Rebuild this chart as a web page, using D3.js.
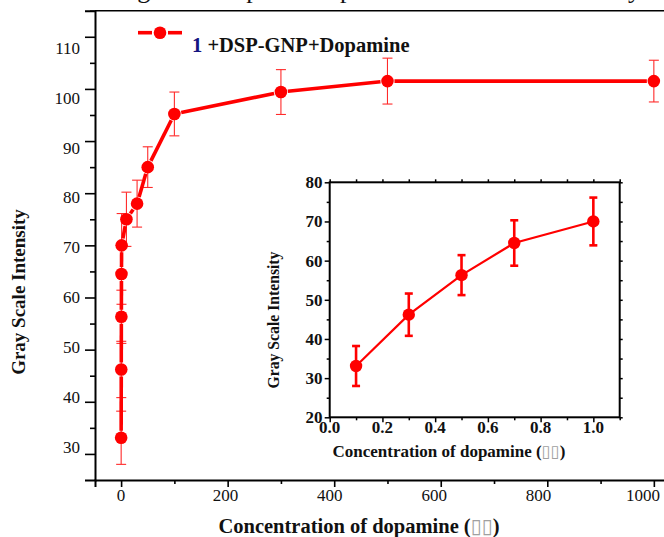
<!DOCTYPE html>
<html>
<head>
<meta charset="utf-8">
<script src="https://cdn.jsdelivr.net/npm/d3@7"></script>
<style>
  body { margin: 0; background: #fff; }
  svg { display: block; }
  text { font-family: "Liberation Serif", "Times New Roman", serif; }
</style>
</head>
<body>
<svg id="chart" width="664" height="537"></svg>
<script>
// Gray scale intensity vs. dopamine concentration (full range)
const concMain = [0.1, 0.3, 0.5, 0.7, 1, 10, 30, 50, 100, 300, 500, 1000];
const grayMain = [33.1, 46.2, 56.3, 64.5, 70.0, 75.0, 78.0, 85.0, 95.2, 99.4, 101.5, 101.5];
const errMain  = [5.1, 5.4, 5.1, 5.8, 6.1, 5.2, 4.5, 3.9, 4.2, 4.3, 4.4, 4.0];

// Low-concentration detail (inset)
const concInset = [0.1, 0.3, 0.5, 0.7, 1.0];
const grayInset = [33.1, 46.2, 56.3, 64.5, 70.0];
const errInset  = [5.1, 5.4, 5.1, 5.8, 6.1];

// Tick values
const mainYTicks  = [30, 40, 50, 60, 70, 80, 90, 100, 110];
const mainYMinor  = [35, 45, 55, 65, 75, 85, 95, 105, 115];
const mainXTicks  = [0, 200, 400, 600, 800, 1000];
const mainXMinor  = [100, 300, 500, 700, 900];
const insetYTicks = [20, 30, 40, 50, 60, 70, 80];
const insetYMinor = [25, 35, 45, 55, 65, 75];
const insetXTicks = [0.0, 0.2, 0.4, 0.6, 0.8, 1.0];
const insetXMinor = [0.1, 0.3, 0.5, 0.7, 0.9, 1.1];

const seriesName = "+DSP-GNP+Dopamine";
const xTitle = "Concentration of dopamine (";
const yTitle = "Gray Scale Intensity";
const missingGlyphs = "\u25AF\u25AF";
const bodyText = "indicates the greater response in presence of the DSP-GNP system";

const RED = "#ff0000";
const svg = d3.select("#chart");

// running text of the page above the figure (only its lower edge is on screen)
svg.append("text").attr("x", 0).attr("y", -2.5)
  .attr("font-size", 26).attr("fill", "#111").text(bodyText);

// ---------- main plot ----------
const x = d3.scaleLinear().domain([-49, 1020]).range([95, 664.5]);
const y = d3.scaleLinear().domain([25, 115]).range([480, 10.7]);
// tick labels sit on slightly compressed scales in this figure
const yLab = d3.scaleLinear().domain([30, 110]).range([446.7, 48]);
const xLab = d3.scaleLinear().domain([0, 1000]).range([121, 643]);

const main = svg.append("g");

// frame lines
main.append("line").attr("x1", x.range()[0]).attr("x2", 664)
  .attr("y1", y(115)).attr("y2", y(115)).attr("stroke", "#000").attr("stroke-width", 1.6);

const yAxisMajor = d3.axisLeft(y).tickValues(mainYTicks).tickSize(10).tickFormat("");
const yAxisMinor = d3.axisLeft(y).tickValues(mainYMinor).tickSize(5).tickFormat("");
const xAxisMajor = d3.axisBottom(x).tickValues(mainXTicks).tickSize(7).tickFormat("");
const xAxisMinor = d3.axisBottom(x).tickValues(mainXMinor).tickSize(4).tickFormat("");

function styleAxis(g, w) {
  g.select(".domain").attr("stroke", "#000").attr("stroke-width", w);
  g.selectAll(".tick line").attr("stroke", "#000").attr("stroke-width", 1.6);
}
main.append("g").attr("transform", `translate(${x.range()[0]},0)`).call(yAxisMajor).call(g => styleAxis(g, 2));
main.append("g").attr("transform", `translate(${x.range()[0]},0)`).call(yAxisMinor).call(g => { g.select(".domain").remove(); styleAxis(g, 0); });
main.append("g").attr("transform", `translate(0,${y(25)})`).call(xAxisMajor).call(g => styleAxis(g, 2));
main.append("g").attr("transform", `translate(0,${y(25)})`).call(xAxisMinor).call(g => { g.select(".domain").remove(); styleAxis(g, 0); });

// tick labels
main.selectAll(".ylab").data(mainYTicks).join("text")
  .attr("x", 80).attr("y", d => yLab(d)).attr("dy", "0.35em")
  .attr("text-anchor", "end").attr("font-size", 17).attr("fill", "#111").text(d => d);
main.selectAll(".xlab").data(mainXTicks).join("text")
  .attr("x", d => xLab(d)).attr("y", 501)
  .attr("text-anchor", "middle").attr("font-size", 17).attr("fill", "#111").text(d => d);

// axis titles
const xt = main.append("text").attr("x", 359).attr("y", 533).attr("text-anchor", "middle")
  .attr("font-size", 20.5).attr("font-weight", "bold").attr("fill", "#111");
xt.append("tspan").text(xTitle);
xt.append("tspan").attr("font-family", "DejaVu Sans").attr("font-weight", "normal")
  .attr("fill", "#a0a0a0").attr("font-size", 20).text(missingGlyphs);
xt.append("tspan").text(")");

main.append("text").attr("transform", "translate(24.5,292) rotate(-90)")
  .attr("text-anchor", "middle").attr("font-size", 19).attr("font-weight", "bold")
  .attr("fill", "#111").text(yTitle);

// data points in pixel space
const pts = concMain.map((c, i) => ({ px: x(c), py: y(grayMain[i]), v: grayMain[i], e: errMain[i], c }));

// error bars (thin)
const eb = main.append("g").attr("stroke", "#ff2a2a").attr("stroke-width", 1.1).attr("fill", "none");
pts.forEach(p => {
  const top = y(p.v + p.e), bot = y(p.v - p.e);
  eb.append("line").attr("x1", p.px).attr("x2", p.px).attr("y1", top).attr("y2", bot);
  eb.append("line").attr("x1", p.px - 5).attr("x2", p.px + 5).attr("y1", top).attr("y2", top);
  eb.append("line").attr("x1", p.px - 5).attr("x2", p.px + 5).attr("y1", bot).attr("y2", bot);
});

// connecting line, broken around each symbol
const gap = 7;
const segs = [];
for (let i = 0; i < pts.length - 1; i++) {
  const a = pts[i], b = pts[i + 1];
  const dx = b.px - a.px, dy = b.py - a.py, len = Math.hypot(dx, dy);
  if (len > 2 * gap) {
    const ux = dx / len, uy = dy / len;
    segs.push([[a.px + ux * gap, a.py + uy * gap], [b.px - ux * gap, b.py - uy * gap]]);
  }
}
main.append("g").selectAll("path").data(segs).join("path")
  .attr("d", d => d3.line()(d)).attr("stroke", RED).attr("stroke-width", 3.6).attr("fill", "none");

main.append("g").selectAll("circle").data(pts).join("circle")
  .attr("cx", d => d.px).attr("cy", d => d.py).attr("r", 6.3).attr("fill", RED);

// legend
const lg = main.append("g");
lg.append("line").attr("x1", 138).attr("x2", 152).attr("y1", 32.7).attr("y2", 32.7).attr("stroke", RED).attr("stroke-width", 3.6);
lg.append("line").attr("x1", 168).attr("x2", 182).attr("y1", 32.7).attr("y2", 32.7).attr("stroke", RED).attr("stroke-width", 3.6);
lg.append("circle").attr("cx", 160).attr("cy", 32.7).attr("r", 6.3).attr("fill", RED);
const lt = lg.append("text").attr("x", 192).attr("y", 52).attr("font-size", 20.5).attr("font-weight", "bold");
lt.append("tspan").attr("fill", "#141480").text("1 ");
lt.append("tspan").attr("fill", "#111").text(seriesName);

// ---------- inset ----------
const xi = d3.scaleLinear().domain([0, 1.1]).range([329.7, 619.7]);
const yi = d3.scaleLinear().domain([20, 80]).range([417.3, 182.3]);
const inset = svg.append("g");

inset.append("rect").attr("x", xi(0)).attr("y", yi(80))
  .attr("width", xi(1.1) - xi(0)).attr("height", yi(20) - yi(80))
  .attr("fill", "none").attr("stroke", "#000").attr("stroke-width", 2);

function tickOnly(g) {
  g.select(".domain").remove();
  g.selectAll(".tick line").attr("stroke", "#000").attr("stroke-width", 1.5);
}
inset.append("g").attr("transform", `translate(${xi(0)},0)`)
  .call(d3.axisLeft(yi).tickValues(insetYTicks).tickSize(5).tickFormat("")).call(tickOnly);
inset.append("g").attr("transform", `translate(${xi(0)},0)`)
  .call(d3.axisLeft(yi).tickValues(insetYMinor).tickSize(3).tickFormat("")).call(tickOnly);
inset.append("g").attr("transform", `translate(${xi(1.1)},0)`)
  .call(d3.axisRight(yi).tickValues(insetYTicks.concat(insetYMinor)).tickSize(3).tickFormat("")).call(tickOnly);
inset.append("g").attr("transform", `translate(0,${yi(20)})`)
  .call(d3.axisBottom(xi).tickValues(insetXTicks).tickSize(5).tickFormat("")).call(tickOnly);
inset.append("g").attr("transform", `translate(0,${yi(20)})`)
  .call(d3.axisBottom(xi).tickValues(insetXMinor).tickSize(3).tickFormat("")).call(tickOnly);
inset.append("g").attr("transform", `translate(0,${yi(80)})`)
  .call(d3.axisTop(xi).tickValues(insetXTicks.concat(insetXMinor)).tickSize(3).tickFormat("")).call(tickOnly);

inset.selectAll(".iyl").data(insetYTicks).join("text")
  .attr("x", 322.5).attr("y", d => yi(d)).attr("dy", "0.35em").attr("text-anchor", "end")
  .attr("font-size", 17).attr("font-weight", "bold").attr("fill", "#111").text(d => d);
inset.selectAll(".ixl").data(insetXTicks).join("text")
  .attr("x", d => xi(d)).attr("y", 433).attr("text-anchor", "middle")
  .attr("font-size", 17).attr("font-weight", "bold").attr("fill", "#111").text(d => d.toFixed(1));

const ixt = inset.append("text").attr("x", 449).attr("y", 457).attr("text-anchor", "middle")
  .attr("font-size", 17).attr("font-weight", "bold").attr("fill", "#111");
ixt.append("tspan").text(xTitle);
ixt.append("tspan").attr("font-family", "DejaVu Sans").attr("font-weight", "normal")
  .attr("fill", "#a0a0a0").attr("font-size", 16.5).text(missingGlyphs);
ixt.append("tspan").text(")");

inset.append("text").attr("transform", "translate(279,320) rotate(-90)")
  .attr("text-anchor", "middle").attr("font-size", 15.7).attr("font-weight", "bold")
  .attr("fill", "#111").text(yTitle);

const ipts = concInset.map((c, i) => ({ px: xi(c), py: yi(grayInset[i]), v: grayInset[i], e: errInset[i] }));

inset.append("path").datum(ipts)
  .attr("d", d3.line().x(d => d.px).y(d => d.py))
  .attr("stroke", RED).attr("stroke-width", 2.2).attr("fill", "none");

const ieb = inset.append("g").attr("stroke", RED).attr("stroke-width", 2.6);
ipts.forEach(p => {
  const top = yi(p.v + p.e), bot = yi(p.v - p.e);
  ieb.append("line").attr("x1", p.px).attr("x2", p.px).attr("y1", top).attr("y2", bot);
  ieb.append("line").attr("x1", p.px - 4).attr("x2", p.px + 4).attr("y1", top).attr("y2", top);
  ieb.append("line").attr("x1", p.px - 4).attr("x2", p.px + 4).attr("y1", bot).attr("y2", bot);
});
inset.append("g").selectAll("circle").data(ipts).join("circle")
  .attr("cx", d => d.px).attr("cy", d => d.py).attr("r", 6.2).attr("fill", RED);
</script>
</body>
</html>
